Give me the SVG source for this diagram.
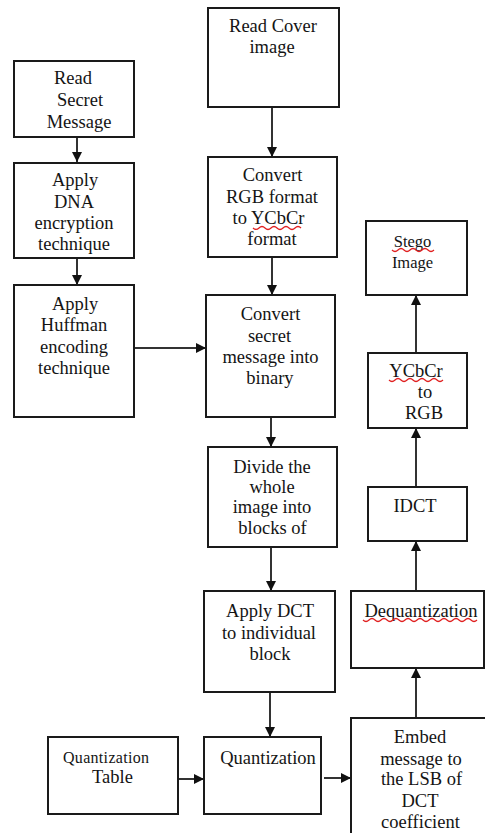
<svg xmlns="http://www.w3.org/2000/svg" width="485" height="833" viewBox="0 0 485 833">
<defs>
<marker id="ah" markerUnits="userSpaceOnUse" markerWidth="10" markerHeight="10" viewBox="0 0 10 10" refX="10" refY="5" orient="auto">
<path d="M0,0 L10,5 L0,10 z" fill="#111"/>
</marker>
<style>
.box{fill:#fff;stroke:#1a1a1a;stroke-width:2}
.t{font-family:'Liberation Serif','Times New Roman','DejaVu Serif',serif;font-size:18.5px;fill:#141414;text-anchor:middle}
.s{font-size:16.5px}
.c{stroke:#333;stroke-width:2;fill:none;marker-end:url(#ah)}
.w{stroke:#e02020;stroke-width:1.2;fill:none}
</style>
</defs>
<rect width="485" height="833" fill="#fff"/>
<g id="connectors">
<line class="c" x1="77" y1="137" x2="77" y2="162"/>
<line class="c" x1="77" y1="258" x2="77" y2="285"/>
<line class="c" x1="134" y1="348" x2="206" y2="348"/>
<line class="c" x1="272" y1="108" x2="272" y2="157"/>
<line class="c" x1="272" y1="258" x2="272" y2="295"/>
<line class="c" x1="271" y1="418" x2="271" y2="447"/>
<line class="c" x1="271" y1="548" x2="271" y2="591"/>
<line class="c" x1="270" y1="693" x2="270" y2="737"/>
<line class="c" x1="178" y1="779" x2="204" y2="779"/>
<line class="c" x1="324" y1="778" x2="351" y2="778"/>
<line class="c" x1="416" y1="718" x2="416" y2="668"/>
<line class="c" x1="416" y1="591" x2="416" y2="541"/>
<line class="c" x1="416" y1="487" x2="416" y2="428"/>
<line class="c" x1="416" y1="353" x2="416" y2="295"/>
</g>
<g font-family="Liberation Serif, serif">
<g id="read-secret">
<rect class="box" x="14" y="61" width="120" height="76"/>
<text class="t" x="73" y="84">Read</text>
<text class="t" x="80" y="106">Secret</text>
<text class="t" x="79" y="128">Message</text>
</g>
<g id="dna">
<rect class="box" x="14" y="163" width="120" height="95"/>
<text class="t" x="75" y="186">Apply</text>
<text class="t" x="74" y="207.5">DNA</text>
<text class="t" x="74" y="229">encryption</text>
<text class="t" x="74" y="250">technique</text>
</g>
<g id="huffman">
<rect class="box" x="14" y="285" width="120" height="132"/>
<text class="t" x="75" y="309.5">Apply</text>
<text class="t" x="74" y="331">Huffman</text>
<text class="t" x="74" y="352.5">encoding</text>
<text class="t" x="74" y="374">technique</text>
</g>
<g id="read-cover">
<rect class="box" x="208" y="8" width="131" height="99"/>
<text class="t" x="273" y="31.5">Read Cover</text>
<text class="t" x="272" y="53">image</text>
</g>
<g id="convert-rgb">
<rect class="box" x="208" y="157" width="129" height="100"/>
<text class="t" x="272.5" y="181">Convert</text>
<text class="t" x="272" y="202.5">RGB format</text>
<text class="t" x="268.5" y="224">to YCbCr</text>
<text class="t" x="272" y="245">format</text>
<path class="w" d="M253,228 q3,3 6,0 t6,0 t6,0 t6,0 t6,0 t6,0 t6,0 t6,0"/>
</g>
<g id="convert-secret">
<rect class="box" x="206" y="295" width="129" height="122"/>
<text class="t" x="270.5" y="320">Convert</text>
<text class="t" x="269.5" y="341.5">secret</text>
<text class="t" x="270.5" y="363">message into</text>
<text class="t" x="270" y="384">binary</text>
</g>
<g id="divide">
<rect class="box" x="208" y="447" width="129" height="100"/>
<text class="t" x="272" y="472.5">Divide the</text>
<text class="t" x="272" y="492.5">whole</text>
<text class="t" x="272" y="513">image into</text>
<text class="t" x="272.5" y="533.5">blocks of</text>
</g>
<g id="apply-dct">
<rect class="box" x="204" y="591" width="131" height="101"/>
<text class="t" x="270" y="616.5">Apply DCT</text>
<text class="t" x="269" y="638.5">to individual</text>
<text class="t" x="270" y="659.5">block</text>
</g>
<g id="quantization">
<rect class="box" x="204" y="737" width="117" height="77"/>
<text class="t" x="268" y="764">Quantization</text>
</g>
<g id="quant-table">
<rect class="box" x="48" y="737" width="130" height="77"/>
<text class="t" x="106" y="763" style="font-size:16px" textLength="86" lengthAdjust="spacing">Quantization</text>
<text class="t" x="112.5" y="783">Table</text>
</g>
<g id="embed">
<rect class="box" x="351" y="718" width="150" height="130"/>
<text class="t" x="420" y="742.5">Embed</text>
<text class="t" x="421" y="764.5">message to</text>
<text class="t" x="421.5" y="785">the LSB of</text>
<text class="t" x="420" y="806.5">DCT</text>
<text class="t" x="420.5" y="828">coefficient</text>
</g>
<g id="dequantization">
<rect class="box" x="351" y="591" width="133" height="77"/>
<text class="t" x="421" y="616.5">Dequantization</text>
<path class="w" d="M363,620 q3,3 6,0 t6,0 t6,0 t6,0 t6,0 t6,0 t6,0 t6,0 t6,0 t6,0 t6,0 t6,0 t6,0 t6,0 t6,0 t6,0 t6,0 t6,0 t6,0"/>
</g>
<g id="idct">
<rect class="box" x="368" y="487" width="99" height="54"/>
<text class="t" x="415" y="511.5">IDCT</text>
</g>
<g id="ycbcr-rgb">
<rect class="box" x="368" y="353" width="99" height="75"/>
<text class="t" x="416" y="376.5">YCbCr</text>
<text class="t" x="425" y="397.5">to</text>
<text class="t" x="424" y="419">RGB</text>
<path class="w" d="M389,380 q3,3 6,0 t6,0 t6,0 t6,0 t6,0 t6,0 t6,0 t6,0 t6,0"/>
</g>
<g id="stego">
<rect class="box" x="366" y="221" width="101" height="74"/>
<text class="t s" x="412.5" y="246.5">Stego</text>
<text class="t s" x="412.5" y="268">Image</text>
<path class="w" d="M392,250 q3,3 6,0 t6,0 t6,0 t6,0 t6,0 t6,0 t6,0"/>
</g>
</g>
</svg>
